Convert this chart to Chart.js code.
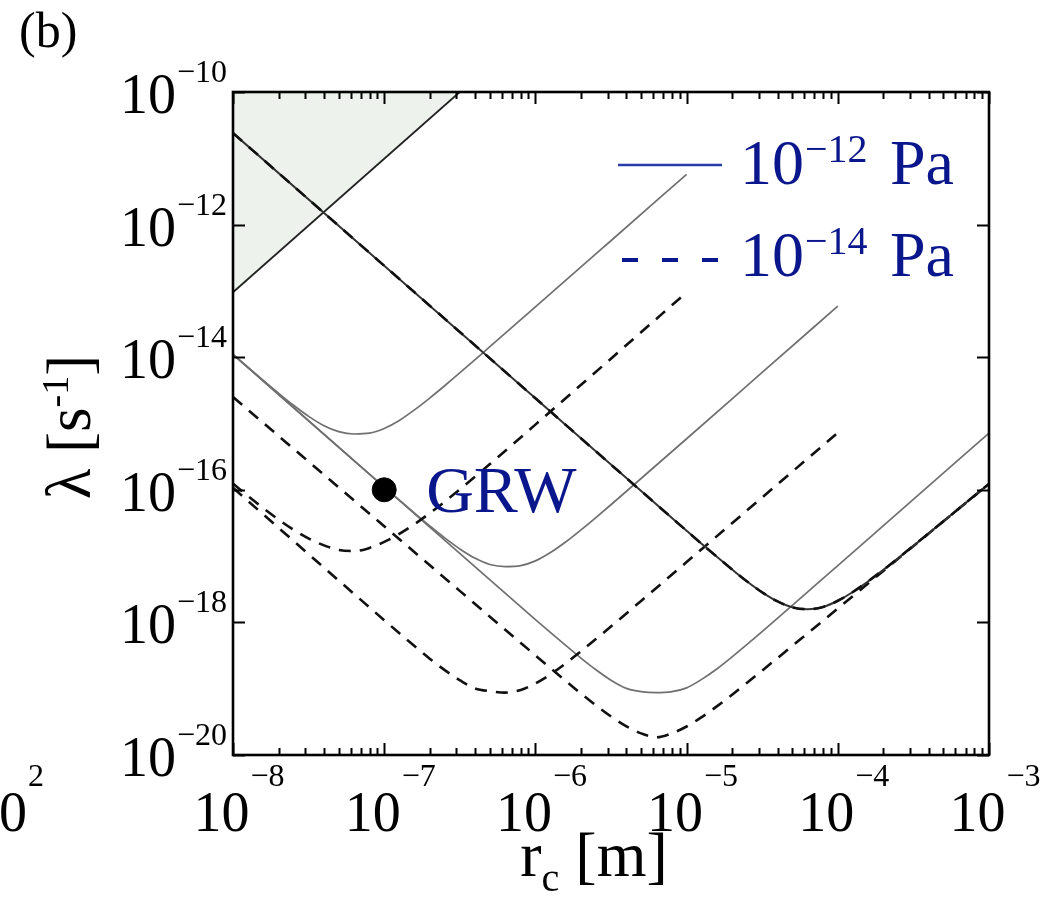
<!DOCTYPE html>
<html><head><meta charset="utf-8">
<script src="https://cdn.jsdelivr.net/npm/chart.js@4.4.1/dist/chart.umd.min.js"></script>
<style>html,body{margin:0;padding:0;background:#fff;overflow:hidden}canvas{display:block}</style>
</head><body>
<canvas id="c" width="1047" height="897"></canvas>
<script>
// ---- tick values / labels ----
const xTicks = [1e-8, 1e-7, 1e-6, 1e-5, 1e-4, 1e-3];
const xTickExp = ['\u22128', '\u22127', '\u22126', '\u22125', '\u22124', '\u22123'];
const yTicks = [1e-20, 1e-18, 1e-16, 1e-14, 1e-12, 1e-10];
const yTickExp = ['\u221220', '\u221218', '\u221216', '\u221214', '\u221212', '\u221210'];

// ---- excluded (shaded) region boundary ----
const shadeX = [1e-8, 3.16e-7];
const shadeY = [9.55e-14, 1e-10];

// ---- curve common to both pressures ----
const bX = [1e-8, 1e-7, 1e-6, 3.16e-6, 8e-6, 1e-5, 1.25e-5, 1.6e-5, 2e-5, 2.5e-5, 3.2e-5, 4e-5, 5e-5, 6.3e-5, 8e-5, 1e-4, 1.25e-4, 1.6e-4, 2e-4, 2.5e-4, 3.2e-4, 5e-4, 1e-3];
const bY = [2.40e-11, 2.40e-13, 2.40e-15, 2.40e-16, 3.76e-17, 2.41e-17, 1.55e-17, 9.59e-18, 6.28e-18, 4.18e-18, 2.79e-18, 2.07e-18, 1.69e-18, 1.58e-18, 1.71e-18, 2.12e-18, 2.85e-18, 4.22e-18, 6.19e-18, 9.25e-18, 1.46e-17, 3.36e-17, 1.23e-16];

// ---- 10^-12 Pa (solid) ----
const s1X = [1e-8, 1.6e-8, 2e-8, 2.5e-8, 3.2e-8, 4e-8, 5e-8, 6.3e-8, 8e-8, 1e-7, 1.25e-7, 1.6e-7, 2e-7, 2.5e-7, 3.2e-7, 5e-7, 1e-6, 3.2e-6, 1e-5];
const s1Y = [1.10e-14, 4.38e-15, 2.86e-15, 1.90e-15, 1.26e-15, 9.27e-16, 7.55e-16, 6.95e-16, 7.14e-16, 8.39e-16, 1.10e-15, 1.63e-15, 2.42e-15, 3.68e-15, 5.94e-15, 1.44e-14, 5.73e-14, 5.86e-13, 5.73e-12];
const s2X = [1e-8, 1e-7, 1.25e-7, 1.6e-7, 2e-7, 2.5e-7, 3.2e-7, 4e-7, 5e-7, 6.3e-7, 8e-7, 1e-6, 1.25e-6, 1.6e-6, 2e-6, 2.5e-6, 3.2e-6, 5e-6, 1e-5, 3.16e-5, 1e-4];
const s2Y = [1.10e-14, 1.10e-16, 7.10e-17, 4.38e-17, 2.86e-17, 1.90e-17, 1.26e-17, 9.25e-18, 7.48e-18, 6.95e-18, 7.18e-18, 8.47e-18, 1.12e-17, 1.66e-17, 2.48e-17, 3.78e-17, 6.11e-17, 1.48e-16, 5.89e-16, 5.89e-15, 5.89e-14];
const s3X = [1e-8, 1e-7, 1e-6, 1.25e-6, 1.6e-6, 2e-6, 2.5e-6, 3.2e-6, 4e-6, 5e-6, 6.3e-6, 8e-6, 1e-5, 1.25e-5, 1.6e-5, 2e-5, 2.5e-5, 3.2e-5, 5e-5, 1e-4, 3.16e-4, 1e-3];
const s3Y = [1.10e-14, 1.10e-16, 1.10e-18, 7.11e-19, 4.42e-19, 2.90e-19, 1.95e-19, 1.32e-19, 1.01e-19, 9.02e-20, 8.71e-20, 9.02e-20, 1.03e-19, 1.37e-19, 2.02e-19, 3.02e-19, 4.61e-19, 7.45e-19, 1.80e-18, 7.18e-18, 7.18e-17, 7.18e-16];

// ---- 10^-14 Pa (dashed) ----
const d1X = [1e-8, 1.25e-8, 1.6e-8, 2e-8, 2.5e-8, 3.2e-8, 4e-8, 5e-8, 6.3e-8, 8e-8, 1e-7, 1.25e-7, 1.6e-7, 2e-7, 2.5e-7, 3.2e-7, 5e-7, 1e-6, 3.16e-6, 1e-5];
const d1Y = [1.24e-16, 8.13e-17, 5.21e-17, 3.56e-17, 2.52e-17, 1.82e-17, 1.45e-17, 1.24e-17, 1.19e-17, 1.33e-17, 1.64e-17, 2.14e-17, 3.07e-17, 4.43e-17, 6.56e-17, 1.04e-16, 2.44e-16, 9.62e-16, 9.51e-15, 9.51e-14];
const d2X = [1e-8, 1e-7, 1.25e-7, 1.6e-7, 2e-7, 2.5e-7, 3.2e-7, 4e-7, 5e-7, 6.3e-7, 8e-7, 1e-6, 1.25e-6, 1.6e-6, 2e-6, 2.5e-6, 3.2e-6, 5e-6, 1e-5, 3.16e-5, 1e-4];
const d2Y = [1.07e-16, 1.08e-18, 6.97e-19, 4.32e-19, 2.84e-19, 1.92e-19, 1.32e-19, 1.01e-19, 9.16e-20, 8.72e-20, 9.57e-20, 1.20e-19, 1.63e-19, 2.44e-19, 3.66e-19, 5.55e-19, 8.89e-19, 2.11e-18, 8.13e-18, 7.67e-17, 7.24e-16];
const d3X = [1e-8, 1e-7, 3.16e-7, 5e-7, 8e-7, 1e-6, 1.25e-6, 1.6e-6, 2e-6, 2.5e-6, 3.2e-6, 4e-6, 5e-6, 6.3e-6, 8e-6, 1e-5, 1.25e-5, 1.6e-5, 2e-5, 2.5e-5, 3.2e-5, 5e-5, 1e-4, 2e-4, 5e-4, 1e-3];
const d3Y = [2.51e-15, 2.82e-17, 2.99e-18, 1.22e-18, 4.90e-19, 3.18e-19, 2.07e-19, 1.29e-19, 8.47e-20, 5.65e-20, 3.74e-20, 2.71e-20, 2.12e-20, 1.85e-20, 2.13e-20, 2.69e-20, 3.69e-20, 5.51e-20, 8.13e-20, 1.22e-19, 1.92e-19, 4.42e-19, 1.62e-18, 5.97e-18, 3.35e-17, 1.23e-16];

// ---- GRW point ----
const grwX = [1e-7];
const grwY = [1e-16];

const pts = (xs, ys) => xs.map((x, i) => ({x: x, y: ys[i]}));

const SOLID = '#707070', DASH = '#111111';
const solid = (data) => ({data, borderColor: SOLID, borderWidth: 1.7, pointRadius: 0, fill: false, cubicInterpolationMode: 'monotone'});
const dashed = (data) => ({data, borderColor: DASH, borderWidth: 2.6, borderDash: [12, 9], pointRadius: 0, fill: false, cubicInterpolationMode: 'monotone'});

const NAVY = 'rgb(10,22,140)';
const SERIF = '"Liberation Serif", "DejaVu Serif", serif';

function powText(ctx, x, baseMain, baseSup, mainTxt, supTxt, fMain, fSup, align) {
  ctx.font = fMain + 'px ' + SERIF;
  const wm = ctx.measureText(mainTxt).width;
  ctx.font = fSup + 'px ' + SERIF;
  const ws = ctx.measureText(supTxt).width;
  const gap = 1;
  const total = wm + gap + ws;
  let start = x;
  if (align === 'center') start = x - total / 2;
  else if (align === 'right') start = x - total;
  ctx.textAlign = 'left';
  ctx.textBaseline = 'alphabetic';
  ctx.font = fMain + 'px ' + SERIF;
  ctx.fillText(mainTxt, start, baseMain);
  ctx.font = fSup + 'px ' + SERIF;
  ctx.fillText(supTxt, start + wm + gap, baseSup);
  return total;
}

const decor = {
  id: 'decor',
  afterDraw(chart) {
    const ctx = chart.ctx, ca = chart.chartArea;
    const xs = chart.scales.x, ys = chart.scales.y;
    ctx.save();
    ctx.strokeStyle = '#000';
    ctx.fillStyle = '#000';
    // frame
    ctx.lineWidth = 2.6;
    ctx.strokeRect(ca.left, ca.top, ca.right - ca.left, ca.bottom - ca.top);
    // x ticks (major + minor), bottom and top
    ctx.lineWidth = 2;
    ctx.beginPath();
    for (let d = 0; d < xTicks.length; d++) {
      for (let m = 1; m <= 9; m++) {
        if (d === xTicks.length - 1 && m > 1) break;
        const v = xTicks[d] * m;
        const px = Math.round(xs.getPixelForValue(v)) + 0.5;
        const len = m === 1 ? 12 : 7;
        ctx.moveTo(px, ca.bottom); ctx.lineTo(px, ca.bottom - len);
        ctx.moveTo(px, ca.top); ctx.lineTo(px, ca.top + len);
      }
    }
    // y ticks
    yTicks.forEach(v => {
      const py = Math.round(ys.getPixelForValue(v)) + 0.5;
      ctx.moveTo(ca.left, py); ctx.lineTo(ca.left + 12, py);
      ctx.moveTo(ca.right, py); ctx.lineTo(ca.right - 12, py);
    });
    ctx.stroke();

    // tick labels
    ctx.fillStyle = '#000';
    xTicks.forEach((v, i) => {
      const px = xs.getPixelForValue(v);
      powText(ctx, px + 6, ca.bottom + 76, ca.bottom + 31, '10', xTickExp[i], 56, 32, 'center');
    });
    yTicks.forEach((v, i) => {
      const py = ys.getPixelForValue(v);
      powText(ctx, 227, py + 21, py - 10, '10', yTickExp[i], 56, 32, 'right');
    });
    // partial label of neighbouring panel at the far left
    powText(ctx, 44, ca.bottom + 76, ca.bottom + 31, '10', '2', 56, 32, 'right');

    // x axis title
    ctx.textBaseline = 'alphabetic';
    ctx.textAlign = 'left';
    ctx.font = '64px ' + SERIF;
    const rW = ctx.measureText('r').width;
    const mW = ctx.measureText(' [m]').width;
    ctx.font = '40px ' + SERIF;
    const cW = ctx.measureText('c').width;
    let sx = 594 - (rW + cW + mW) / 2;
    ctx.font = '64px ' + SERIF;
    ctx.fillText('r', sx, 876);
    ctx.font = '40px ' + SERIF;
    ctx.fillText('c', sx + rW, 891);
    ctx.font = '64px ' + SERIF;
    ctx.fillText(' [m]', sx + rW + cW, 876);

    // y axis title
    ctx.save();
    ctx.translate(90, 427);
    ctx.rotate(-Math.PI / 2);
    ctx.font = '63px ' + SERIF;
    const a1 = '\u03bb [s', a3 = ']';
    const w1 = ctx.measureText(a1).width, w3 = ctx.measureText(a3).width;
    ctx.font = '38px ' + SERIF;
    const w2 = ctx.measureText('-1').width;
    let tx = -(w1 + w2 + w3) / 2;
    ctx.font = '63px ' + SERIF;
    ctx.fillText(a1, tx, 0);
    ctx.font = '38px ' + SERIF;
    ctx.fillText('-1', tx + w1, -22);
    ctx.font = '63px ' + SERIF;
    ctx.fillText(a3, tx + w1 + w2, 0);
    ctx.restore();

    // panel label
    ctx.font = '50px ' + SERIF;
    ctx.fillText('(b)', 19, 47);

    // legend
    ctx.strokeStyle = 'rgb(40,60,170)';
    ctx.lineWidth = 2.6;
    ctx.beginPath(); ctx.moveTo(618, 165); ctx.lineTo(722, 165); ctx.stroke();
    ctx.strokeStyle = NAVY;
    ctx.lineWidth = 4;
    ctx.setLineDash([16, 24]);
    ctx.beginPath(); ctx.moveTo(622, 260); ctx.lineTo(722, 260); ctx.stroke();
    ctx.setLineDash([]);
    ctx.fillStyle = NAVY;
    powText(ctx, 740, 184, 162, '10', '\u221212', 64, 40, 'left');
    powText(ctx, 740, 276, 254, '10', '\u221214', 64, 40, 'left');
    ctx.font = '64px ' + SERIF;
    ctx.fillText('Pa', 890, 184);
    ctx.fillText('Pa', 890, 276);

    // GRW label
    const gx = xs.getPixelForValue(grwX[0]), gy = ys.getPixelForValue(grwY[0]);
    ctx.font = '66px ' + SERIF;
    ctx.fillText('GRW', gx + 42, gy + 22);
    ctx.restore();
  }
};

new Chart(document.getElementById('c'), {
  type: 'line',
  data: {
    datasets: [
      {type: 'scatter', data: pts(grwX, grwY), pointRadius: 12, pointBackgroundColor: '#000', pointBorderColor: '#000', showLine: false, order: 0},
      Object.assign(dashed(pts(bX, bY)), {order: 1}),
      Object.assign(solid(pts(bX, bY)), {order: 2, borderColor: '#333', borderWidth: 2}),
      Object.assign(dashed(pts(d1X, d1Y)), {order: 3}),
      Object.assign(dashed(pts(d2X, d2Y)), {order: 3}),
      Object.assign(dashed(pts(d3X, d3Y)), {order: 3}),
      Object.assign(solid(pts(s1X, s1Y)), {order: 4}),
      Object.assign(solid(pts(s2X, s2Y)), {order: 4}),
      Object.assign(solid(pts(s3X, s3Y)), {order: 4}),
      {data: pts(shadeX, shadeY), borderColor: '#222', borderWidth: 1.8, pointRadius: 0, fill: 'end', backgroundColor: 'rgb(237,242,237)', order: 9}
    ]
  },
  options: {
    responsive: false,
    animation: false,
    devicePixelRatio: 1,
    layout: {padding: {left: 233, right: 58, top: 92, bottom: 142}},
    scales: {
      x: {type: 'logarithmic', min: 1e-8, max: 1e-3, display: false},
      y: {type: 'logarithmic', min: 1e-20, max: 1e-10, display: false}
    },
    plugins: {legend: {display: false}, tooltip: {enabled: false}}
  },
  plugins: [decor]
});
</script>
</body></html>
